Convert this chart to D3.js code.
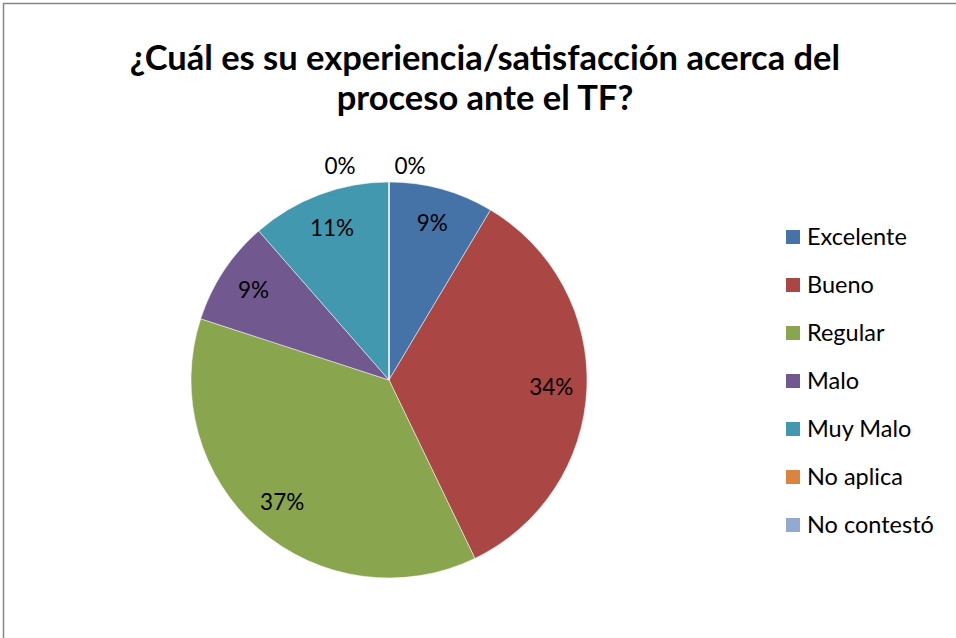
<!DOCTYPE html>
<html>
<head>
<meta charset="utf-8">
<script src="https://cdn.jsdelivr.net/npm/d3@7"></script>
<style>
  body { margin: 0; background: #fff; }
  svg { display: block; font-family: Lato, "Open Sans", sans-serif; }
</style>
</head>
<body>
<div id="chart"></div>
<script>
var categories = ["Excelente", "Bueno", "Regular", "Malo", "Muy Malo", "No aplica", "No contestó"]
  , counts     = [3, 12, 13, 3, 4, 0, 0]
  , colors     = ["#4572A7", "#AA4643", "#89A54E", "#71588F", "#4198AF", "#DB843D", "#93A9CF"]
  , titleLines = ["¿Cuál es su experiencia/satisfacción acerca del", "proceso ante el TF?"]
  ;

var width = 956
  , height = 638
  , cx = 389
  , cy = 380
  , radius = 198
  , total = d3.sum(counts)
  ;

var svg = d3.select("#chart").append("svg")
  .attr("width", width)
  .attr("height", height);

// chart area border (right/bottom run off the page)
svg.append("rect")
  .attr("x", 3.5).attr("y", 3.5)
  .attr("width", width + 20).attr("height", height + 20)
  .attr("fill", "#fff")
  .attr("stroke", "#868686")
  .attr("stroke-width", 1.5);

svg.append("g").selectAll("text").data(titleLines).enter().append("text")
  .attr("x", 485)
  .attr("y", function (d, i) { return 70 + i * 40; })
  .attr("text-anchor", "middle")
  .attr("font-size", 34.5)
  .attr("font-weight", "bold")
  .attr("fill", "#000")
  .text(function (d) { return d; });

var pie = d3.pie().sort(null).value(function (d) { return d; })
  , arcs = pie(counts)
  , arc = d3.arc().innerRadius(0).outerRadius(radius)
  , labelArc = d3.arc().innerRadius(radius * 0.82).outerRadius(radius * 0.82)
  ;

var g = svg.append("g").attr("transform", "translate(" + cx + "," + cy + ")");

g.selectAll("path").data(arcs).enter().append("path")
  .attr("d", arc)
  .attr("fill", function (d, i) { return colors[i]; })
  .attr("stroke", "#fff")
  .attr("stroke-width", 0.5);

var zeroIdx = 0;
g.selectAll("text").data(arcs).enter().append("text")
  .attr("transform", function (d) {
    var p;
    if (d.value === 0) {
      // empty slices sit above the top of the pie, side by side
      var a = d.startAngle
        , r = radius + 16
        , shift = zeroIdx++ === 0 ? -49 : 21;
      p = [Math.sin(a) * r + shift, -Math.cos(a) * r];
    } else {
      p = labelArc.centroid(d);
    }
    return "translate(" + p[0] + "," + p[1] + ")";
  })
  .attr("text-anchor", "middle")
  .attr("dy", "0.35em")
  .attr("font-size", 22.5)
  .attr("fill", "#000")
  .text(function (d) { return Math.round(d.value / total * 100) + "%"; });

var legend = svg.append("g").attr("transform", "translate(786,237)")
  , rows = legend.selectAll("g").data(categories).enter().append("g")
      .attr("transform", function (d, i) { return "translate(0," + (i * 48) + ")"; })
  ;

rows.append("rect")
  .attr("x", 0).attr("y", -7)
  .attr("width", 14).attr("height", 14)
  .attr("fill", function (d, i) { return colors[i]; });

rows.append("text")
  .attr("x", 21)
  .attr("dy", "0.35em")
  .attr("font-size", 23.5)
  .attr("fill", "#000")
  .text(function (d) { return d; });
</script>
</body>
</html>
